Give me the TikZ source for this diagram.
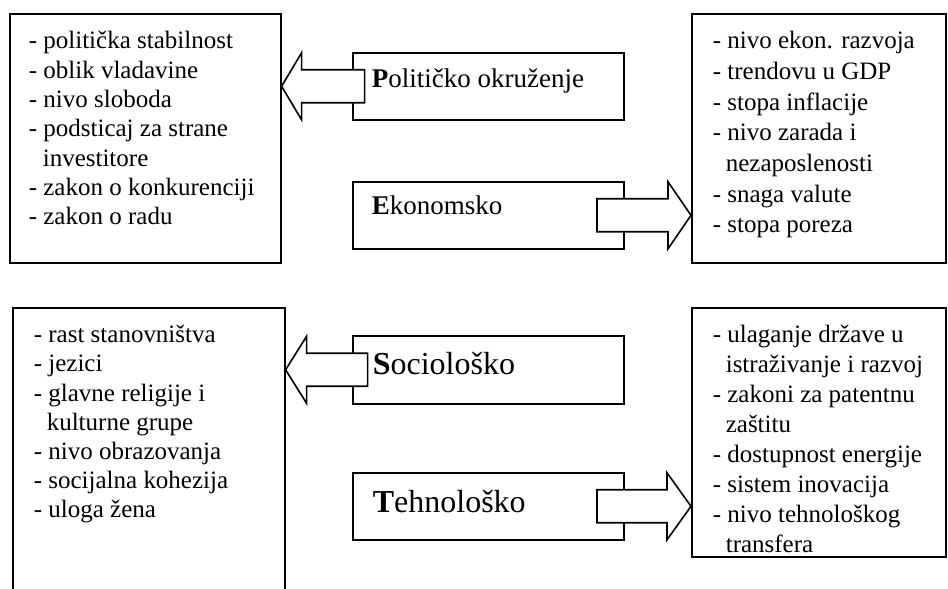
\documentclass[tikz,border=0pt]{standalone}
\usepackage{fontspec}
\setmainfont{Liberation Serif}
\usetikzlibrary{arrows.meta}

\begin{document}
\begin{tikzpicture}[x=1pt, y=1pt, line width=1.6pt,
  box/.style={draw, rectangle, anchor=north west, inner sep=0pt},
  listtext/.style={anchor=north west, inner sep=0pt, align=left},
  labeltext/.style={anchor=base west, inner sep=0pt, font=\fontsize{27}{30}\selectfont},
  bigtext/.style={labeltext, font=\fontsize{32}{36}\selectfont},
  blockarrow/.style={draw, fill=white, line join=miter}]

\useasboundingbox (0,0) rectangle (948,589);

% Define the boxes with coordinates
\node[box, minimum width=271pt, minimum height=249pt] (Plist) at (9,576) {};
\node[box, minimum width=271pt, minimum height=67pt] (Pbox) at (352,537) {};
\node[box, minimum width=271pt, minimum height=67pt] (Ebox) at (352,408) {};
\node[box, minimum width=254pt, minimum height=249pt] (Elist) at (691,576) {};
\node[box, minimum width=272pt, minimum height=320pt] (Slist) at (12,282) {};
\node[box, minimum width=271pt, minimum height=68pt] (Sbox) at (352,254) {};
\node[box, minimum width=271pt, minimum height=67pt] (Tbox) at (352,117) {};
\node[box, minimum width=254pt, minimum height=249pt] (Tlist) at (691,282) {};

% Texts of the four factors
\node[labeltext] (Ptxt) at ([xshift=19pt, yshift=-36pt]Pbox.north west) {\textbf{P}olitičko okruženje};
\node[labeltext] (Etxt) at ([xshift=19pt, yshift=-34pt]Ebox.north west) {\textbf{E}konomsko};
\node[bigtext] (Stxt) at ([xshift=20pt, yshift=-40pt]Sbox.north west) {\textbf{S}ociološko};
\node[bigtext] (Ttxt) at ([xshift=20pt, yshift=-41pt]Tbox.north west) {\textbf{T}ehnološko};

% Lists
\node[listtext, font=\fontsize{25}{29.3}\selectfont] (Pitems) at ([xshift=19pt, yshift=-14.5pt]Plist.north west)
  {\strut- politička stabilnost\\
   - oblik vladavine\\
   - nivo sloboda\\
   - podsticaj za strane\\
   \hspace*{14pt}investitore\\
   - zakon o konkurenciji\\
   - zakon o radu};
\node[listtext, font=\fontsize{25}{30.7}\selectfont] (Eitems) at ([xshift=21pt, yshift=-13.5pt]Elist.north west)
  {\strut- nivo ekon. razvoja\\
   - trendovu u GDP\\
   - stopa inflacije\\
   - nivo zarada i\\
   \hspace*{13pt}nezaposlenosti\\
   - snaga valute\\
   - stopa poreza};
\node[listtext, font=\fontsize{25}{29.2}\selectfont] (Sitems) at ([xshift=21pt, yshift=-14.5pt]Slist.north west)
  {\strut- rast stanovništva\\
   - jezici\\
   - glavne religije i\\
   \hspace*{13pt}kulturne grupe\\
   - nivo obrazovanja\\
   - socijalna kohezija\\
   - uloga žena};
\begin{scope}
  \clip (Tlist.north west) rectangle ([yshift=3pt]Tlist.south east);
  \node[listtext, font=\fontsize{25}{30}\selectfont] (Titems) at ([xshift=21pt, yshift=-14pt]Tlist.north west)
    {\strut- ulaganje države u\\
     \hspace*{13pt}istraživanje i razvoj\\
     - zakoni za patentnu\\
     \hspace*{13pt}zaštitu\\
     - dostupnost energije\\
     - sistem inovacija\\
     - nivo tehnološkog\\
     \hspace*{13pt}transfera};
\end{scope}

% Draw the block arrows
\draw[blockarrow] (Plist.east |- Pbox.west) -- ++(20,33.5) -- ++(0,-17) -- ++(63,0)
  -- ++(0,-33) -- ++(-63,0) -- ++(0,-17) -- cycle;
\draw[blockarrow] (Elist.west |- Ebox.east) -- ++(-23,33.5) -- ++(0,-17) -- ++(-71,0)
  -- ++(0,-33) -- ++(71,0) -- ++(0,-17) -- cycle;
\draw[blockarrow] (Slist.east |- Sbox.west) -- ++(21,33.5) -- ++(0,-17) -- ++(61,0)
  -- ++(0,-33) -- ++(-61,0) -- ++(0,-17) -- cycle;
\draw[blockarrow] (Tlist.west |- Tbox.east) -- ++(-24,33.5) -- ++(0,-17) -- ++(-70,0)
  -- ++(0,-33) -- ++(70,0) -- ++(0,-17) -- cycle;
\end{tikzpicture}
\end{document}
